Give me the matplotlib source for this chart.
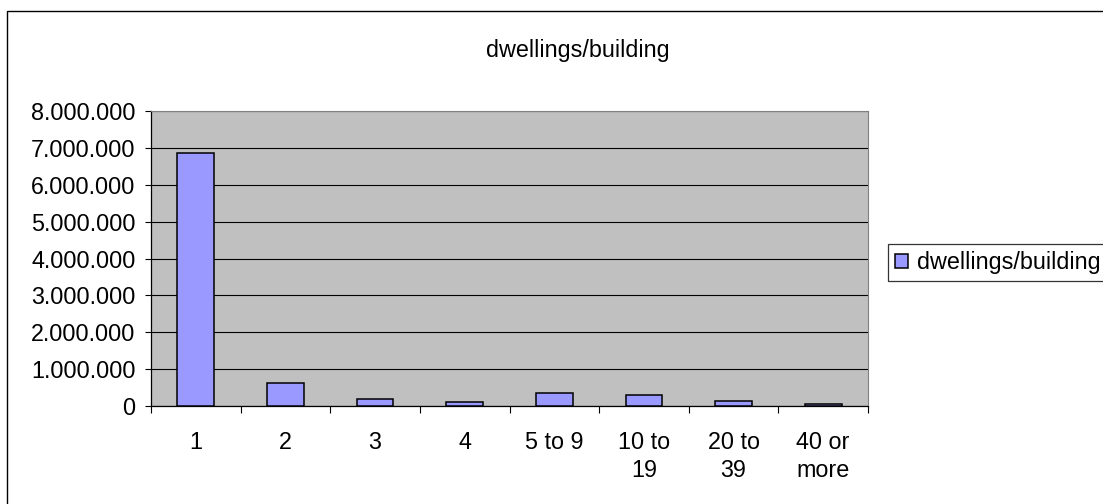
import numpy as np
import matplotlib
matplotlib.use("Agg")
import matplotlib.pyplot as plt
from matplotlib.patches import Rectangle
from matplotlib.ticker import FuncFormatter, MultipleLocator

plt.rcParams["font.family"] = ["Liberation Sans", "DejaVu Sans"]

categories = ["1", "2", "3", "4", "5 to 9", "10 to\n19", "20 to\n39", "40 or\nmore"]
dwellings = [6850000, 630000, 190000, 100000, 350000, 300000, 145000, 50000]
series_name = "dwellings/building"

W, H = 1103, 504
FS = 16.8
fig = plt.figure(figsize=(W / 100, H / 100), dpi=100)

# outer chart border (runs off the right and bottom edges)
fig.patches.append(Rectangle((7 / W, -0.05), 1.2, 1 - 11 / H + 0.05,
                             transform=fig.transFigure, fill=False,
                             edgecolor="black", linewidth=1.0))

ax = fig.add_axes([151 / W, 1 - 406 / H, (868 - 151) / W, (406 - 111) / H])
ax.set_facecolor("#C0C0C0")

x = np.arange(len(categories))
bars = ax.bar(x, dwellings, width=0.41, color="#9999FF", edgecolor="black",
              linewidth=1.1, label=series_name, zorder=3)

ax.set_xlim(-0.5, len(categories) - 0.5)
ax.set_ylim(0, 8000000)
ax.yaxis.set_major_locator(MultipleLocator(1000000))
ax.yaxis.set_major_formatter(FuncFormatter(lambda v, p: f"{int(v):,}".replace(",", ".")))
ax.grid(axis="y", color="black", linewidth=0.8, zorder=1)

ax.set_xticks(x)
ax.set_xticklabels(categories, linespacing=1.3)
ax.set_xticks(np.arange(-0.5, len(categories)), minor=True)
ax.tick_params(axis="x", which="major", length=0, pad=18, labelsize=FS)
ax.tick_params(axis="x", which="minor", length=5, width=0.8, direction="out")
ax.tick_params(axis="y", length=4, width=0.8, direction="out", pad=7, labelsize=FS)

for side in ("top", "right"):
    ax.spines[side].set_color("#808080")
for side in ("left", "bottom"):
    ax.spines[side].set_color("black")
    ax.spines[side].set_linewidth(0.9)

fig.text(578 / W, 1 - 50 / H, series_name, ha="center", va="center", fontsize=FS)

leg = fig.legend(handles=[bars], labels=[series_name], loc="upper left",
                 bbox_to_anchor=(888 / W, 1 - 244 / H), fontsize=FS,
                 frameon=True, fancybox=False, edgecolor="black",
                 handlelength=0.55, handleheight=0.55, handletextpad=0.4,
                 borderpad=0.3, borderaxespad=0)
leg.get_frame().set_linewidth(0.9)

fig.savefig("out.png", dpi=100)
